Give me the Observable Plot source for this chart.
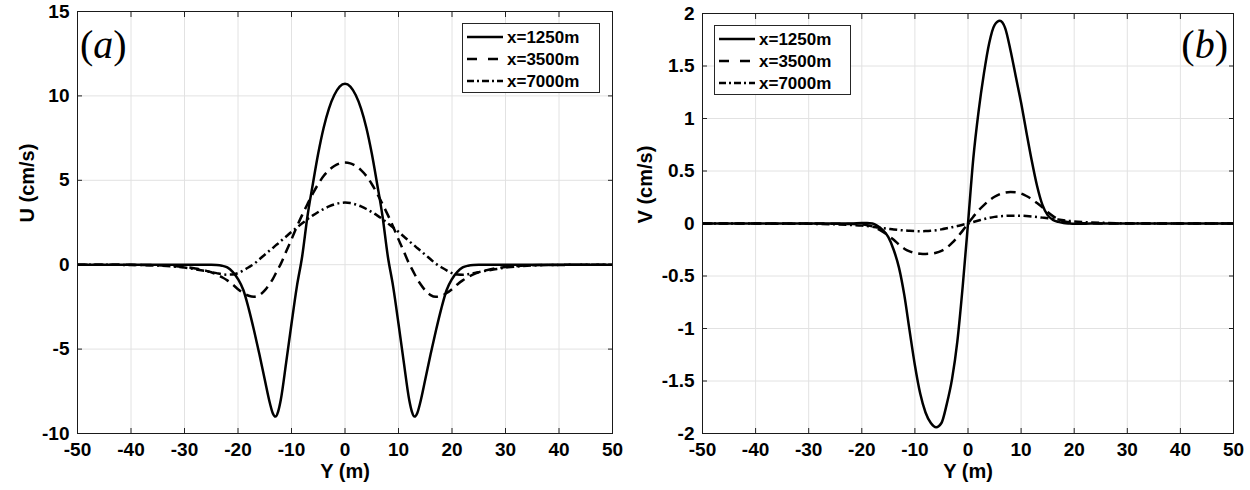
<!DOCTYPE html>
<html><head><meta charset="utf-8">
<script src="https://cdn.jsdelivr.net/npm/d3@7"></script>
<script src="https://cdn.jsdelivr.net/npm/@observablehq/plot@0.6"></script>
<style>
body{margin:0;background:#fff;width:1250px;height:490px;overflow:hidden;position:relative;}
#a,#b{position:absolute;top:0;}
#a{left:0px} #b{left:625px}
</style></head><body>
<div id="a"></div><div id="b"></div>
<script>
const seriesNames = ["x=1250m", "x=3500m", "x=7000m"];
const xTicks = [-50,-40,-30,-20,-10,0,10,20,30,40,50];
const yTicksA = [-10,-5,0,5,10,15];
const yTicksB = [-2,-1.5,-1,-0.5,0,0.5,1,1.5,2];

// Panel (a): U (cm/s) vs Y (m)
const yA = [-50,-45,-40,-35,-32,-30,-28,-26,-25,-24,-23,-22,-21,-20,-19,-18,-17,-16,-15,-14,-13.5,-13,-12.5,-12,-11,-10,-9,-8,-7,-6,-5,-4,-3,-2,-1,
  0,
  1,2,3,4,5,6,7,8,9,10,11,12,12.5,13,13.5,14,15,16,17,18,19,20,21,22,23,24,25,26,28,30,32,35,40,45,50];
const u1250 = [0,0,0,0,0,0,-0.005,-0.01,-0.01,-0.02,-0.06,-0.16,-0.42,-0.85,-1.5,-2.6,-3.9,-5.3,-6.8,-8.25,-8.8,-9.0,-8.7,-8.0,-5.8,-3.5,-1.3,0.5,2.9,4.8,6.6,8.1,9.25,10.05,10.55,
  10.72,
  10.55,10.05,9.25,8.1,6.6,4.8,2.9,0.5,-1.3,-3.5,-5.8,-8.0,-8.7,-9.0,-8.8,-8.25,-6.8,-5.3,-3.9,-2.6,-1.5,-0.85,-0.42,-0.16,-0.06,-0.02,-0.01,-0.01,-0.005,0,0,0,0,0,0];
const u3500 = [0,0,-0.01,-0.03,-0.08,-0.14,-0.22,-0.36,-0.45,-0.57,-0.74,-0.93,-1.17,-1.45,-1.68,-1.84,-1.9,-1.8,-1.52,-1.1,-0.85,-0.55,-0.25,0.05,0.78,1.5,2.25,2.95,3.6,4.22,4.78,5.25,5.6,5.85,6.0,
  6.05,
  6.0,5.85,5.6,5.25,4.78,4.22,3.6,2.95,2.25,1.5,0.78,0.05,-0.25,-0.55,-0.85,-1.1,-1.52,-1.8,-1.9,-1.84,-1.68,-1.45,-1.17,-0.93,-0.74,-0.57,-0.45,-0.36,-0.22,-0.14,-0.08,-0.03,-0.01,0,0];
const u7000 = [0,-0.005,-0.015,-0.05,-0.11,-0.17,-0.27,-0.38,-0.44,-0.5,-0.56,-0.59,-0.58,-0.5,-0.34,-0.15,0.05,0.32,0.59,0.86,0.99,1.13,1.26,1.4,1.67,1.95,2.2,2.45,2.7,2.92,3.12,3.3,3.45,3.57,3.65,
  3.68,
  3.65,3.57,3.45,3.3,3.12,2.92,2.7,2.45,2.2,1.95,1.67,1.4,1.26,1.13,0.99,0.86,0.59,0.32,0.05,-0.15,-0.34,-0.5,-0.58,-0.59,-0.56,-0.5,-0.44,-0.38,-0.27,-0.17,-0.11,-0.05,-0.015,-0.005,0];

// Panel (b): V (cm/s) vs Y (m)
const yB = [-50,-40,-30,-25,-22,-20,-19,-18,-17,-16,-15,-14,-13,-12,-11,-10,-9,-8,-7,-6,-5,-4,-3,-2,-1,
  0,
  1,2,3,4,5,6,7,8,9,10,11,12,13,14,15,16,17,18,19,20,22,25,30,40,50];
const v1250 = [0,0,0,0,0,0.004,0.004,0,-0.025,-0.065,-0.13,-0.25,-0.42,-0.68,-1.02,-1.35,-1.62,-1.8,-1.9,-1.94,-1.9,-1.72,-1.48,-1.12,-0.6,
  0,
  0.62,1.07,1.43,1.72,1.89,1.93,1.86,1.65,1.4,1.15,0.87,0.6,0.36,0.18,0.08,0.035,0.015,0.005,0,-0.003,-0.002,0,0,0,0];
const v3500 = [0,0,0,-0.002,-0.005,-0.01,-0.016,-0.028,-0.05,-0.08,-0.115,-0.155,-0.2,-0.24,-0.265,-0.28,-0.288,-0.29,-0.287,-0.278,-0.26,-0.23,-0.185,-0.13,-0.068,
  0,
  0.065,0.125,0.175,0.22,0.255,0.28,0.295,0.3,0.298,0.285,0.262,0.232,0.195,0.155,0.11,0.07,0.04,0.022,0.012,0.007,0.003,0.001,0,0,0];
const v7000 = [0,-0.001,-0.003,-0.008,-0.014,-0.02,-0.025,-0.031,-0.038,-0.045,-0.051,-0.057,-0.062,-0.066,-0.07,-0.072,-0.073,-0.072,-0.069,-0.064,-0.056,-0.046,-0.035,-0.024,-0.012,
  0,
  0.014,0.028,0.042,0.054,0.063,0.069,0.073,0.075,0.075,0.074,0.071,0.067,0.062,0.056,0.05,0.043,0.037,0.031,0.025,0.02,0.013,0.007,0.002,0.0005,0];

const dashes = ["none", "10,6", "8,3.5,2,3.5"];
const legendDashes = ["none", "10,11", "7,3,2,3"];

function rowsOf(ys, vals) { return ys.map((y, i) => ({Y: y, V: vals[i]})); }

function panel({el, ys, series, yDomain, yTicks, marginTop, marginRight, ylabel, ylabelDx, legendBox, tag, tagX, tagAnchor}) {
  const lineMarks = series.map((vals, k) => Plot.line(rowsOf(ys, vals), {
    x: "Y", y: "V", stroke: "#000", strokeWidth: 2.5, strokeDasharray: dashes[k],
    strokeLinecap: "butt", strokeLinejoin: "round", curve: "monotone-x"
  }));
  const fmt = d => String(d);
  const svg = Plot.plot({
    width: 625, height: 490,
    marginLeft: 77, marginRight, marginTop, marginBottom: 57,
    x: {domain: [-50, 50], label: null},
    y: {domain: yDomain, label: null},
    style: {fontFamily: "'Liberation Sans', Arial, sans-serif", fontSize: "19px", fontWeight: "bold", color: "#000", background: "#fff", overflow: "visible"},
    marks: [
      Plot.gridX(xTicks, {stroke: "#e2e2e2", strokeOpacity: 1, strokeWidth: 1}),
      Plot.gridY(yTicks, {stroke: "#e2e2e2", strokeOpacity: 1, strokeWidth: 1}),
      Plot.axisX(xTicks, {anchor: "bottom", tickSize: 0, tickPadding: 9, tickFormat: fmt, label: null, fontSize: 19, fontWeight: "bold"}),
      Plot.axisX(xTicks, {anchor: "bottom", tickSize: 5, dy: -5, tickFormat: () => "", label: null, stroke: "#222"}),
      Plot.axisX(xTicks, {anchor: "top", tickSize: 5, dy: 5, tickFormat: () => "", label: null, stroke: "#222"}),
      Plot.axisY(yTicks, {anchor: "left", tickSize: 0, tickPadding: 8, tickFormat: fmt, label: null, fontSize: 19, fontWeight: "bold"}),
      Plot.axisY(yTicks, {anchor: "left", tickSize: 5, dx: 5, tickFormat: () => "", label: null, stroke: "#222"}),
      Plot.axisY(yTicks, {anchor: "right", tickSize: 5, dx: -5, tickFormat: () => "", label: null, stroke: "#222"}),
      ...lineMarks,
      Plot.frame({stroke: "#1a1a1a", strokeWidth: 1}),
      Plot.text([ylabel], {frameAnchor: "left", rotate: -90, dx: ylabelDx, fontSize: 20, fontWeight: "bold", fill: "#000"}),
      Plot.text(["Y (m)"], {frameAnchor: "bottom", dy: 44, fontSize: 20, fontWeight: "bold", fill: "#000"})
    ]
  });
  const s = d3.select(svg);
  // panel tag (LaTeX-like)
  const t = s.append("text").attr("x", tagX).attr("y", 58).attr("text-anchor", tagAnchor)
    .attr("style", "font-family:'Liberation Serif','DejaVu Serif',serif;font-size:40px;font-weight:normal;fill:#000");
  t.append("tspan").text("(");
  t.append("tspan").attr("style", "font-style:italic").text(tag);
  t.append("tspan").text(")");
  // legend
  const {x, y, w, h} = legendBox;
  const g = s.append("g");
  g.append("rect").attr("x", x + 0.5).attr("y", y + 0.5).attr("width", w).attr("height", h)
    .attr("fill", "#fff").attr("stroke", "#262626").attr("stroke-width", 1);
  const rowY = [14, 36, 58];
  seriesNames.forEach((name, k) => {
    g.append("line").attr("x1", x + 5).attr("x2", x + 41).attr("y1", y + rowY[k]).attr("y2", y + rowY[k])
      .attr("stroke", "#000").attr("stroke-width", 2.5).attr("stroke-dasharray", legendDashes[k]);
    g.append("text").attr("x", x + 45).attr("y", y + rowY[k]).attr("dy", "0.36em").attr("text-anchor", "start")
      .attr("style", "font-size:17px;font-weight:bold;fill:#000").text(name);
  });
  document.getElementById(el).appendChild(svg);
}

panel({el: "a", ys: yA, series: [u1250, u3500, u7000], yDomain: [-10, 15], yTicks: yTicksA,
  marginTop: 11, marginRight: 13, ylabel: "U (cm/s)", ylabelDx: -50,
  legendBox: {x: 462, y: 23, w: 137, h: 69}, tag: "a", tagX: 80, tagAnchor: "start"});
panel({el: "b", ys: yB, series: [v1250, v3500, v7000], yDomain: [-2, 2], yTicks: yTicksB,
  marginTop: 13, marginRight: 17, ylabel: "V (cm/s)", ylabelDx: -57,
  legendBox: {x: 89, y: 25, w: 136, h: 69}, tag: "b", tagX: 603, tagAnchor: "end"});
</script>
</body></html>
